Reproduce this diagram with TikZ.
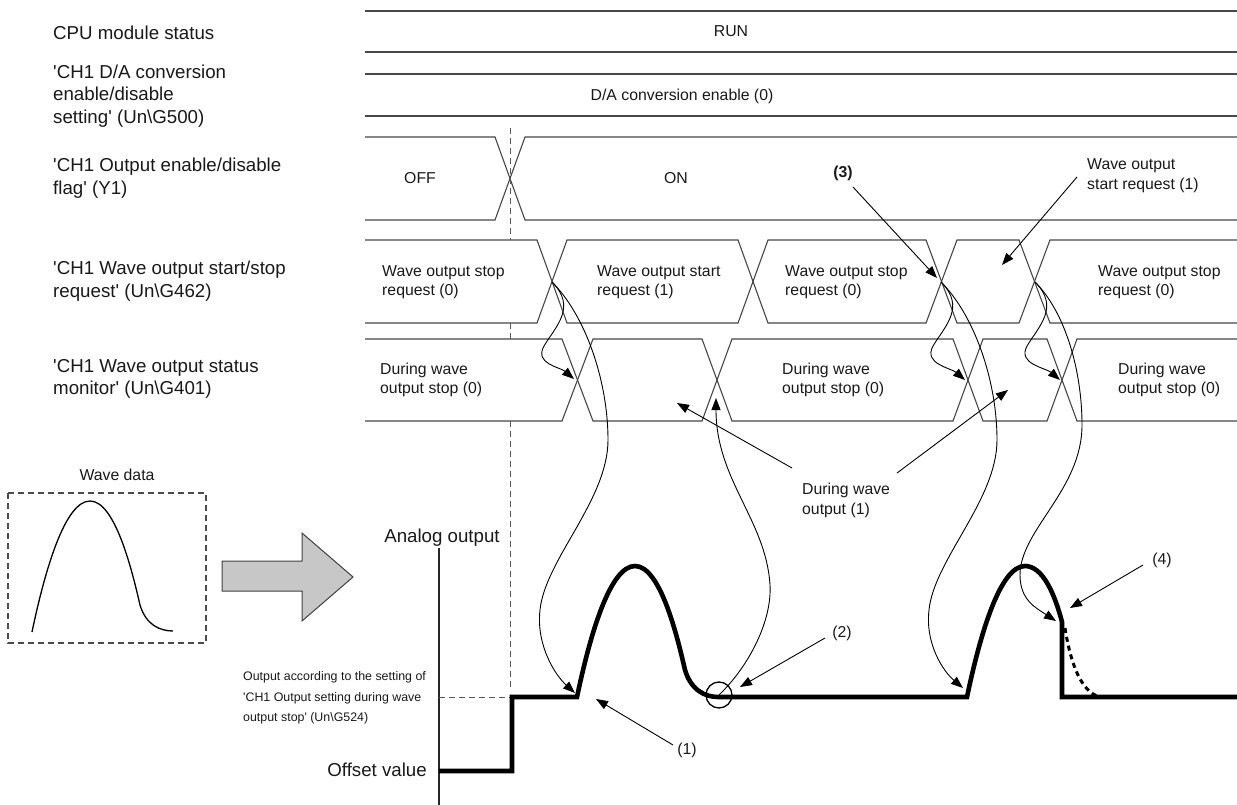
\documentclass[tikz,border=0pt]{standalone}
\usepackage{fontspec}
\setmainfont{Liberation Sans}
\usetikzlibrary{arrows.meta}
\newcommand\sq{\textquotesingle}
\newcommand\bsl{\textbackslash}
\begin{document}
\begin{tikzpicture}[x=1pt,y=-1pt,
  rowline/.style={draw=black!72, line width=1.1pt},
  lbl/.style={font=\fontsize{18.7}{22.5}\selectfont, anchor=west, align=left, inner sep=0pt, text=black!90},
  itxt/.style={font=\fontsize{15.8}{19.5}\selectfont, align=left, inner sep=0pt, text=black!90},
  stxt/.style={font=\fontsize{12.4}{20.5}\selectfont, align=left, inner sep=0pt, text=black!90},
  arr/.style={draw=black, line width=0.9pt, -{Triangle[length=12pt,width=9pt]}},
  sigline/.style={draw=black, line width=4.6pt, line join=miter},
  guide/.style={draw=black!65, line width=1pt, dash pattern=on 6pt off 4pt}]
\useasboundingbox (0,0) rectangle (1237,805);

% ---------- left labels ----------
\node[lbl] (lcpu) at (53,33) {CPU module status};
\node[lbl] (lda) at (53,96) {\sq CH1 D/A conversion\\enable/disable\\setting\sq{} (Un\bsl G500)};
\node[lbl] (ly1) at (53,178) {\sq CH1 Output enable/disable\\flag\sq{} (Y1)};
\node[lbl] (lreq) at (53,281) {\sq CH1 Wave output start/stop\\request\sq{} (Un\bsl G462)};
\node[lbl] (lmon) at (53,379) {\sq CH1 Wave output status\\monitor\sq{} (Un\bsl G401)};

% ---------- rows ----------
\draw[rowline] (365,11) -- (1237,11);
\draw[rowline] (365,52) -- (1237,52);
\draw[rowline] (365,74) -- (1237,74);
\draw[rowline] (365,116) -- (1237,116);
\node[itxt] (run) at (731,31) {RUN};
\node[itxt] (daen) at (682,96) {D/A conversion enable (0)};

% Y1 row
\draw[rowline] (365,137) -- (495,137) -- (525,220) -- (1237,220);
\draw[rowline] (365,220) -- (495,220) -- (525,137) -- (1237,137);
\node[itxt] (off) at (420,178) {OFF};
\node[itxt] (on) at (676,178) {ON};

% G462 row
\draw[rowline] (365,240) -- (537,240) -- (552,281.5) -- (537,323) -- (365,323);
\draw[rowline] (552,281.5) -- (567,240) -- (738,240) -- (753,281.5) -- (738,323) -- (567,323) -- cycle;
\draw[rowline] (753,281.5) -- (768,240) -- (926,240) -- (941.5,281.5) -- (926,323) -- (768,323) -- cycle;
\draw[rowline] (941.5,281.5) -- (957,240) -- (1019,240) -- (1034.5,281.5) -- (1019,323) -- (957,323) -- cycle;
\draw[rowline] (1237,240) -- (1050,240) -- (1034.5,281.5) -- (1050,323) -- (1237,323);
\node[itxt,anchor=west] (r0) at (382,282) {Wave output stop\\request (0)};
\node[itxt,anchor=west] (r1) at (597,282) {Wave output start\\request (1)};
\node[itxt,anchor=west] (r2) at (785,282) {Wave output stop\\request (0)};
\node[itxt,anchor=west] (r4) at (1098,282) {Wave output stop\\request (0)};

% G401 row
\draw[rowline] (365,339) -- (562,339) -- (577.5,380) -- (562,421) -- (365,421);
\draw[rowline] (577.5,380) -- (593,339) -- (702,339) -- (717,380) -- (702,421) -- (593,421) -- cycle;
\draw[rowline] (717,380) -- (732,339) -- (953,339) -- (968,380) -- (953,421) -- (732,421) -- cycle;
\draw[rowline] (968,380) -- (983,339) -- (1047,339) -- (1062,380) -- (1047,421) -- (983,421) -- cycle;
\draw[rowline] (1237,339) -- (1077,339) -- (1062,380) -- (1077,421) -- (1237,421);
\node[itxt,anchor=west] (m0) at (380,380) {During wave\\output stop (0)};
\node[itxt,anchor=west] (m2) at (782,380) {During wave\\output stop (0)};
\node[itxt,anchor=west] (m4) at (1118,380) {During wave\\output stop (0)};

% dashed timing guide
\draw[guide] (510,128) -- (510,240);
\draw[guide] (510,323) -- (510,339);
\draw[guide] (510,421) -- (510,690);

% ---------- wave data ----------
\node[itxt] (wd) at (117,475) {Wave data};
\draw[guide, draw=black!70, line width=1.1pt] (8,493) rectangle (206,643);
\draw[line width=1.3pt] (32,632) .. controls (45,570) and (65,501) .. (90,501)
  .. controls (115,501) and (132,570) .. (140,605) .. controls (146,625) and (160,631) .. (173,631);
\draw[draw=black!75, fill=black!22, line width=1pt]
  (222,561) -- (302,561) -- (302,533) -- (353,577) -- (302,621) -- (302,591) -- (222,591) -- cycle;

% ---------- analog output ----------
\node[lbl, anchor=center] (ao) at (442,538) {Analog output};
\draw[line width=1.1pt, draw=black!85] (439,548) -- (439,805);
\node[lbl, anchor=east] (ofs) at (427,770) {Offset value};
\node[stxt, anchor=west] (oas) at (243,698) {Output according to the setting of\\\sq CH1 Output setting during wave\\output stop\sq{} (Un\bsl G524)};
\draw[guide] (439,697) -- (510,697);

\draw[sigline] (439,771) -- (512,771) -- (512,697) -- (577,697)
  .. controls (590,635) and (610,566) .. (635,566)
  .. controls (660,566) and (677,635) .. (685,670)
  .. controls (691,690) and (705,697) .. (718,697)
  -- (967,697)
  .. controls (980,635) and (1000,566) .. (1025,566)
  .. controls (1043,566) and (1055,595) .. (1062,622)
  -- (1062,697) -- (1237,697);
\draw[line width=3pt, dash pattern=on 5pt off 4pt] (1065,628) .. controls (1070,660) and (1080,692) .. (1100,697);
\node[draw=black, line width=1.3pt, circle, minimum size=26pt, inner sep=0pt] (c2) at (719,695) {};

% ---------- named points ----------
\coordinate (q1) at (552,282);
\coordinate (q3) at (941,282);
\coordinate (q4) at (1035,282);
\coordinate (s1) at (574,379);
\coordinate (s3) at (965,380);
\coordinate (s4) at (1060,380);
\coordinate (s2) at (716,398);
\coordinate (rise1) at (575,693);
\coordinate (rise2) at (963,688);
\coordinate (drop) at (1056,621);

% short curves request -> monitor
\draw[arr] (q1) .. controls +(25,25) and +(12,-20) .. +(-8,64) .. controls +(-10,18) and +(-14,-12) .. (s1);
\draw[arr] (q3) .. controls +(25,25) and +(12,-20) .. +(-8,64) .. controls +(-10,18) and +(-14,-12) .. (s3);
\draw[arr] (q4) .. controls +(25,25) and +(12,-20) .. +(-8,64) .. controls +(-10,18) and +(-14,-12) .. (s4);

% long curves request -> analog output
\draw[arr] (q1) .. controls (585,315) and (608,380) .. (608,440)
  .. controls (608,500) and (545,560) .. (540,610)
  .. controls (536,645) and (555,675) .. (rise1);
\draw[arr] (q3) .. controls (974,315) and (997,380) .. (997,440)
  .. controls (997,500) and (934,560) .. (929,610)
  .. controls (925,645) and (944,672) .. (rise2);
\draw[arr] (q4) .. controls (1065,312) and (1082,370) .. (1082,425)
  .. controls (1082,490) and (1020,530) .. (1020,575)
  .. controls (1020,600) and (1036,608) .. (drop);
% circle (2) -> monitor
\draw[arr] (c2.center) .. controls (750,665) and (772,620) .. (770,585)
  .. controls (766,520) and (716,480) .. (s2);

% ---------- callouts ----------
\node[itxt, font=\fontsize{15.8}{19.5}\selectfont\bfseries] (n3) at (843,173) {(3)};
\coordinate (n3s) at (853,187);
\coordinate (n3e) at (937,278);
\draw[arr] (n3s) -- (n3e);

\node[itxt,anchor=west] (wsr) at (1087,175.5) {Wave output\\start request (1)};
\coordinate (wsrs) at (1077,177);
\coordinate (wsre) at (1002,265);
\draw[arr] (wsrs) -- (wsre);

\node[itxt,anchor=west] (dwo) at (802,500.5) {During wave\\output (1)};
\coordinate (dwl) at (792,468);
\coordinate (dwlt) at (677,403);
\coordinate (dwr) at (897,473);
\coordinate (dwrt) at (1008,390);
\draw[arr] (dwl) -- (dwlt);
\draw[arr] (dwr) -- (dwrt);

\node[itxt] (n2) at (842,633) {(2)};
\coordinate (n2s) at (825,638);
\coordinate (n2e) at (740,687);
\draw[arr] (n2s) -- (n2e);

\node[itxt] (n1) at (687,750) {(1)};
\coordinate (n1s) at (673,745);
\coordinate (n1e) at (596,699);
\draw[arr] (n1s) -- (n1e);

\node[itxt] (n4) at (1162,560) {(4)};
\coordinate (n4s) at (1143,565);
\coordinate (n4e) at (1070,608);
\draw[arr] (n4s) -- (n4e);
\end{tikzpicture}
\end{document}
